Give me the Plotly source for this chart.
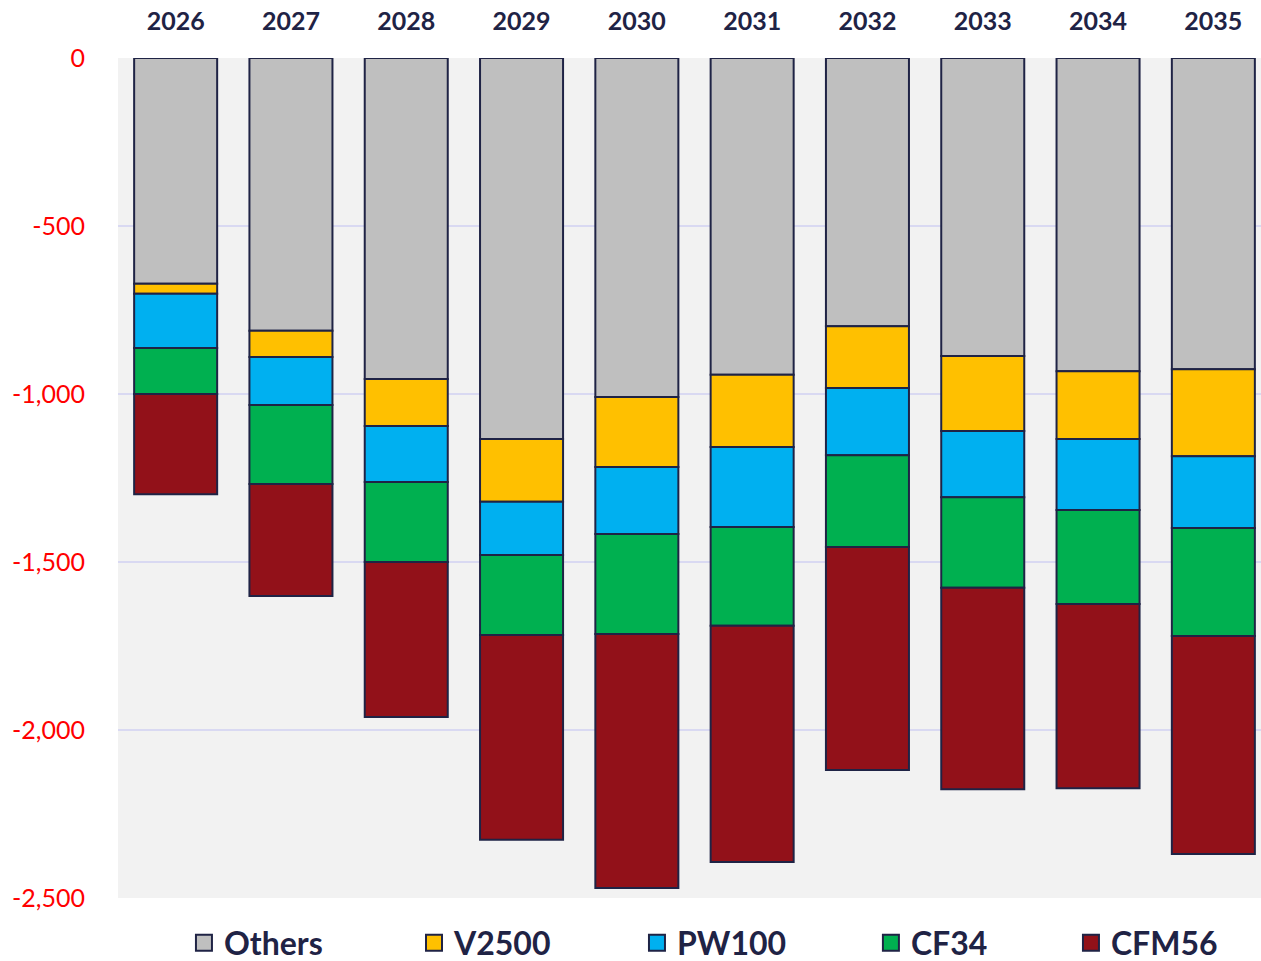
import plotly.graph_objects as go

years = ["2026", "2027", "2028", "2029", "2030", "2031", "2032", "2033", "2034", "2035"]
others = [-672, -812, -955, -1134, -1009, -943, -798, -887, -932, -926]
v2500 = [-30, -78, -140, -187, -208, -215, -184, -223, -202, -259]
pw100 = [-161, -143, -167, -158, -200, -238, -200, -197, -211, -214]
cf34 = [-137, -235, -238, -238, -297, -294, -273, -270, -280, -321]
cfm56 = [-298, -333, -461, -610, -756, -703, -664, -599, -548, -649]
y_tickvals = [0, -500, -1000, -1500, -2000, -2500]
y_ticktext = ["0", "-500", "-1,000", "-1,500", "-2,000", "-2,500"]

series = [
    ("Others", others, "#bfbfbf"),
    ("V2500", v2500, "#ffc000"),
    ("PW100", pw100, "#00b0f0"),
    ("CF34", cf34, "#00b050"),
    ("CFM56", cfm56, "#921119"),
]
legend_x = [0.0572, 0.2567, 0.4501, 0.6530, 0.8265]

navy = "#1f2345"
fig = go.Figure()
for i, (name, vals, col) in enumerate(series):
    fig.add_trace(go.Bar(
        x=years, y=vals, name=name, showlegend=False,
        marker=dict(color=col, line=dict(color=navy, width=2)),
    ))
for i, (name, vals, col) in enumerate(series):
    lg = "legend" if i == 0 else f"legend{i+1}"
    fig.add_trace(go.Scatter(
        x=[None], y=[None], mode="markers", name=name, legend=lg,
        marker=dict(symbol="square", size=18, color=col, line=dict(color=navy, width=2)),
    ))

legend_common = dict(orientation="h", y=-0.0536, xanchor="left", yanchor="middle",
                     font=dict(size=32, color=navy, weight="bold"), itemsizing="trace",
                     bgcolor="rgba(0,0,0,0)")
layout_legends = {}
for i, lx in enumerate(legend_x):
    key = "legend" if i == 0 else f"legend{i+1}"
    layout_legends[key] = dict(legend_common, x=lx)

fig.update_layout(
    width=1271, height=961,
    barmode="relative", bargap=0.28,
    plot_bgcolor="#f2f2f2", paper_bgcolor="white",
    margin=dict(l=118, r=0, t=58, b=63, autoexpand=False),
    font=dict(family="Lato, Open Sans, sans-serif"),
    xaxis=dict(side="top", tickfont=dict(size=25, color=navy, weight="bold"),
               showgrid=False, showline=False, ticks="", ticklabelstandoff=22),
    yaxis=dict(range=[-2500, 0], tickvals=y_tickvals, ticktext=y_ticktext,
               tickfont=dict(size=25, color="red"),
               gridcolor="#d9d9f2", gridwidth=2, zeroline=False, showline=False, ticks="",
               ticklabelstandoff=32),
    **layout_legends,
)
page_css = ("document.body.style.margin='0';"
            "document.body.style.overflow='hidden';"
            "document.documentElement.style.overflow='hidden';")
fig.write_html("out.html", post_script=page_css, config={"displayModeBar": False})
